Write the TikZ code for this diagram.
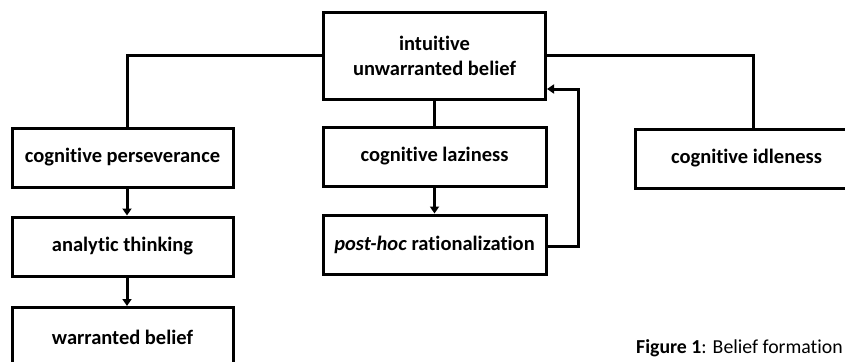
\documentclass[tikz,border=0pt]{standalone}
\usepackage{fontspec}
\setmainfont{Carlito}[Ligatures={NoCommon}]
\usetikzlibrary{arrows.meta}
\begin{document}
\begin{tikzpicture}[x=1pt,y=-1pt,
  box/.style={draw=black,line width=3pt,fill=white,minimum width=221pt,minimum height=59pt,inner sep=0pt,font=\fontsize{20.5}{24}\selectfont\bfseries,align=center},
  conn/.style={line width=3pt},
  arr/.style={line width=3pt,-{Triangle[length=7pt,width=9pt]}}]
\useasboundingbox (0,0) rectangle (845,361);
\node[box,minimum width=222pt,minimum height=86pt] (top) at (434.5,56) {intuitive\\[1pt]unwarranted belief};
\node[box] (persev) at (122.5,157.5) {cognitive perseverance};
\node[box] (analytic) at (122.5,246.5) {analytic thinking};
\node[box] (warranted) at (122.5,337) {warranted belief};
\node[box,minimum width=223pt] (lazy) at (434.5,156.5) {cognitive laziness};
\node[box,minimum width=223pt] (posthoc) at (434.5,244.5) {\textit{post-hoc} rationalization};
\node[box,minimum width=223pt] (idle) at (746.5,158.5) {cognitive idleness};
\node[anchor=west,inner sep=0pt,font=\fontsize{19.8}{23}\selectfont] (cap) at (636,348) {\textbf{Figure 1}: Belief formation};
\draw[conn] (top.west) -| ([xshift=4.5pt]persev.north);
\draw[conn] (top.east) -| ([xshift=6.5pt]idle.north);
\draw[conn] (top.south) -- (lazy.north);
\draw[arr] ([xshift=4.5pt]persev.south) -- ([xshift=4.5pt]analytic.north);
\draw[arr] ([xshift=4.5pt]analytic.south) -- ([xshift=4.5pt]warranted.north);
\draw[arr] (lazy.south) -- (posthoc.north);
\draw[arr] ([yshift=-1.5pt]posthoc.east) -- ++(31,0) |- ([yshift=-33pt]top.east);
\end{tikzpicture}
\end{document}
